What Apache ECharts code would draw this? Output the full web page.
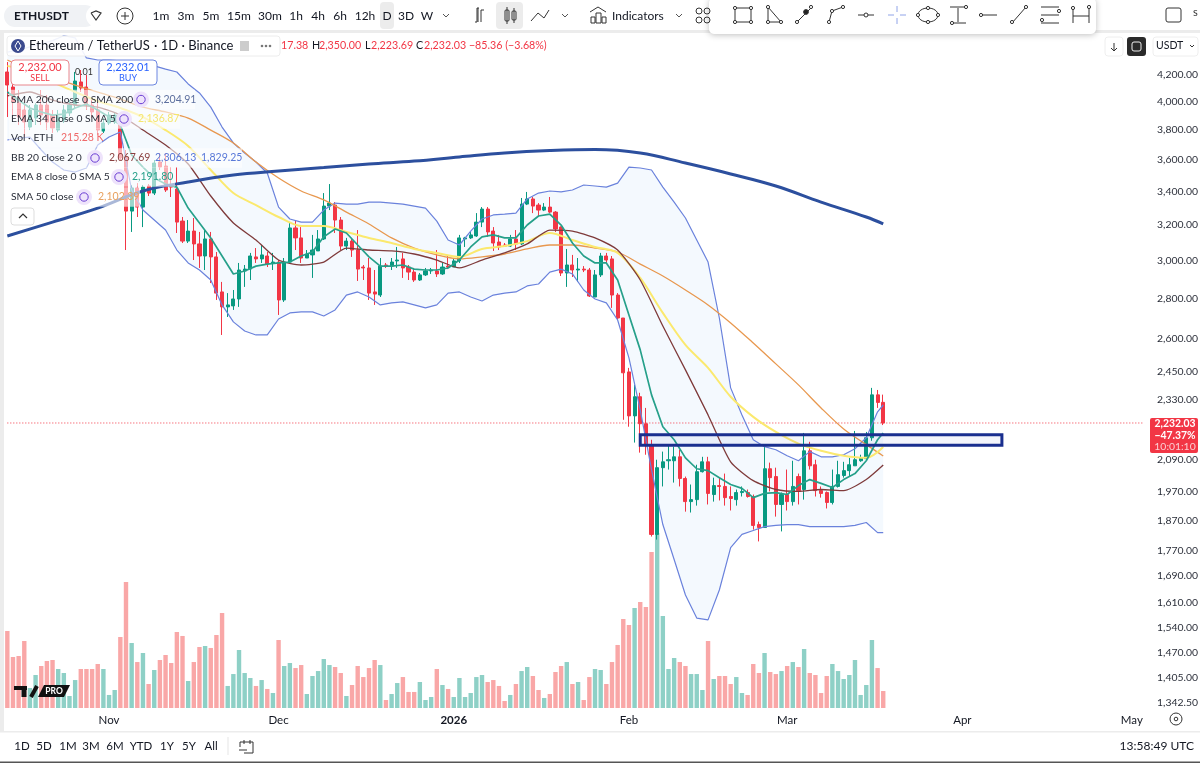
<!DOCTYPE html>
<html>
<head>
<meta charset="utf-8">
<style>html,body{margin:0;padding:0;background:#fff}#main{width:1200px;height:763px}</style>
<script src="https://cdn.jsdelivr.net/npm/echarts@6/dist/echarts.min.js"></script>
</head>
<body>
<div id="main"></div>
<script>
// daily candles (Oct 14 2025 .. Mar 18 2026)
var openPrices = [
  4223,4109,3992,3941,3821,3884,3977,3977,3905,3800,
  3870,3920,3977,4147,4109,3977,3941,3793,3849,3856,
  3835,3619,3280,3420,3304,3433,3389,3586,3560,3439,
  3414,3221,3106,3163,3090,3023,3118,3018,2832,2756,
  2761,2796,2942,2952,3018,3007,3023,2985,2990,2791,
  2990,3181,3124,3012,3029,3051,3118,3310,3316,3227,
  3078,3106,3056,2963,2958,2832,2816,2974,2968,2996,
  3007,2963,2936,2894,2921,2942,2942,2926,2968,2963,
  2996,3118,3124,3135,3215,3292,3163,3101,3084,3078,
  3118,3090,3322,3353,3316,3286,3304,3274,3186,2931,
  2974,2947,2952,2947,2806,2921,3023,3007,2816,2701,
  2449,2261,2341,2229,2142,1823,2058,2084,2084,2099,
  2018,1935,1942,2043,2080,1960,1992,1989,1953,1942,
  1967,1967,1953,1856,1846,2054,2025,1925,1960,1935,
  2025,1978,2122,2069,1974,1967,1932,1989,2029,2047,
  2065,2084,2092,2173,2349,2317.38
];
var closePrices = [
  4124,3999,3891,3856,3941,3977,3905,3856,3814,3891,
  3941,3977,4154,4102,3977,3927,3800,3849,3905,3905,
  3612,3280,3420,3304,3426,3389,3579,3553,3408,3426,
  3215,3106,3163,3090,3023,3118,3018,2826,2756,2766,
  2796,2947,2952,3023,3007,3029,2979,2990,2791,2990,
  3181,3124,3012,3034,3056,3118,3310,3328,3227,3078,
  3106,3056,2952,2958,2826,2821,2968,2968,2990,3001,
  2958,2936,2894,2921,2942,2947,2926,2963,2963,2996,
  3124,3124,3141,3215,3292,3158,3095,3073,3078,3118,
  3090,3322,3353,3310,3286,3304,3274,3175,2931,2974,
  2947,2952,2947,2811,2921,3023,3001,2816,2701,2445,
  2261,2341,2229,2142,1823,2058,2080,2088,2099,2018,
  1935,1942,2043,2080,1964,1992,1989,1949,1946,1967,
  1971,1953,1853,1846,2054,2021,1925,1960,1935,1989,
  1974,2122,2065,1974,1964,1932,1989,2032,2047,2069,
  2088,2095,2173,2349,2317,2232.03
];
var lowPrices = [
  3891,3870,3835,3750,3800,3835,3835,3800,3780,3785,
  3849,3898,3955,4072,3941,3884,3766,3780,3835,3842,
  3599,3056,3158,3245,3186,3371,3377,3534,3396,3365,
  3152,3095,3095,3001,2958,2947,2878,2791,2619,2706,
  2741,2756,2858,2894,2985,2985,2963,2947,2716,2781,
  2985,3056,2985,3012,2905,3051,3112,3286,3152,3056,
  3056,3018,2889,2894,2791,2766,2806,2958,2947,2958,
  2905,2894,2884,2889,2915,2926,2910,2921,2952,2963,
  2985,3073,3118,3130,3186,3130,3051,3056,3073,3073,
  3056,3084,3316,3268,3245,3280,3268,3158,2915,2858,
  2910,2884,2936,2806,2806,2910,2985,2751,2691,2245,
  2217,2154,2115,2107,1816,1806,1989,2051,2003,1989,
  1900,1897,1921,2040,1925,1935,1939,1921,1904,1921,
  1953,1949,1839,1800,1846,1971,1883,1833,1904,1921,
  1925,1942,2051,1953,1949,1911,1925,1985,2021,2025,
  2065,2080,2088,2161,2294,2223.69
];
var highPrices = [
  4300,4162,4087,4013,3977,3990,4087,4050,3941,3941,
  3977,4013,4223,4238,4200,4028,4013,3884,3927,3927,
  3870,3665,3439,3451,3439,3445,3599,3645,3645,3553,
  3553,3245,3227,3239,3158,3169,3158,3045,2884,2826,
  2842,2985,2974,3040,3067,3084,3045,3040,3001,3012,
  3210,3227,3186,3056,3141,3169,3389,3445,3334,3245,
  3124,3124,3169,2974,3012,2947,3012,2985,3012,3073,
  3040,2974,2958,2931,2958,2958,3056,2985,3023,3007,
  3141,3130,3158,3268,3304,3304,3186,3141,3095,3141,
  3169,3359,3396,3365,3328,3328,3365,3280,3190,3062,
  3029,3012,2968,2958,2947,3040,3040,3023,2826,2701,
  2467,2392,2358,2294,2165,2088,2119,2142,2138,2126,
  2025,1996,2069,2099,2099,2021,2021,2036,1989,1978,
  1989,1978,1960,1866,2138,2077,2058,1967,2051,2084,
  2036,2192,2157,2088,1989,1971,2051,2084,2080,2095,
  2200,2107,2196,2379,2370,2350
];
// volume in thousands of ETH
var volumeK = [
  975,646,658,848,253,418,532,595,608,494,
  443,152,354,494,494,494,557,494,165,228,
  899,1595,823,582,696,304,481,608,671,570,
  962,912,342,582,772,785,760,924,1203,279,
  430,734,443,380,279,354,241,190,861,532,
  570,506,544,177,405,468,620,544,519,443,
  152,291,532,392,506,608,544,101,177,316,
  392,203,203,329,101,139,494,291,241,139,
  380,139,190,392,418,329,354,279,89,165,
  304,468,519,405,228,127,177,456,532,582,
  304,329,101,392,494,481,304,582,798,1127,
  1051,1266,1342,1279,1975,2216,1165,494,633,582,
  532,430,430,228,848,367,405,405,304,392,
  190,165,557,443,696,456,430,468,532,582,
  519,747,443,418,190,405,557,468,367,418,
  608,165,291,861,506,215
];
// indicators, sampled every few days (last entry is always the last candle)
var sma200 = [3135,3215,3298,3402,3458,3502,3527,3550,3573,3592,3619,3645,3661,3668,3645,3579,3509,3433,3334,3245,3204.91];
var ema34 = [4270,4223,4147,4072,4006,3955,3891,3800,3692,3534,3389,3316,3245,3192,3192,3158,3124,3095,3062,3040,3018,3062,3078,3106,3152,3112,3073,3040,2905,2726,2572,2467,2341,2257,2196,2150,2122,2103,2095,2136.87];
var sma50 = [4316,4238,4177,4124,4072,4020,3962,3927,3884,3800,3712,3586,3483,3402,3347,3274,3204,3124,3067,3029,3007,3018,3034,3062,3084,3084,3067,3045,2979,2915,2842,2766,2677,2581,2485,2392,2294,2208,2146,2102.39];
var bbMid = [4043,4072,4013,3977,3962,3905,3800,3698,3573,3371,3210,3112,3001,2974,2990,3067,3056,3051,3034,3001,2958,3001,3040,3090,3169,3163,3124,3056,2894,2662,2458,2265,2080,2010,1978,1971,1978,1974,2014,2067.69];
var bbUpper = [4378,4395,4420,4445,4470,4510,4493,4332,4316,4316,4309,4300,4285,4270,4245,4223,4132,4065,3962,3821,3712,3645,3586,3515,3304,3233,3215,3215,3286,3328,3322,3322,3334,3334,3328,3322,3310,3298,3221,3112,3084,3163,3233,3257,3262,3268,3353,3389,3402,3396,3408,3439,3433,3426,3451,3553,3547,3534,3426,3334,3239,3112,2990,2701,2379,2265,2165,2138,2126,2103,2084,2119,2099,2099,2107,2130,2173,2278,2306.13];
var bbLower = [3732,3745,3752,3665,3586,3534,3521,3547,3698,3752,3787,3408,3286,3227,3169,3056,2985,2947,2894,2766,2682,2638,2619,2619,2696,2726,2731,2731,2711,2741,2816,2832,2806,2766,2776,2781,2766,2751,2766,2826,2832,2806,2786,2816,2826,2832,2863,2873,2936,2952,2926,2842,2796,2776,2691,2512,2286,2051,1856,1742,1633,1566,1561,1648,1780,1823,1836,1849,1853,1856,1856,1849,1849,1849,1849,1853,1863,1829,1829.25];
var ema8 = [4072,4013,3955,3927,3905,3912,3955,3984,3941,3891,3835,3632,3553,3483,3445,3426,3298,3210,3124,3023,2926,2942,2968,2979,2985,2990,3023,3045,3130,3175,3152,3084,3018,2968,2968,2974,2952,2947,2947,2958,3001,3073,3130,3141,3124,3124,3198,3251,3262,3198,3095,3023,2985,2985,2894,2716,2549,2349,2217,2165,2095,2054,2047,2021,1996,1982,1949,1964,1967,1960,1992,2014,2000,1985,2014,2036,2084,2165,2191.80];
var priceTicks = [4200,4000,3800,3600,3400,3200,3000,2800,2600,2450,2330,2090,1970,1870,1770,1690,1610,1540,1470,1405,1342.5];
var lastPrice = 2232.03;
var zoneTop = 2185, zoneBottom = 2144, zoneFromDay = 112, zoneToDay = 176;
var dayCount = 202;
var monthLabels = {18:'Nov',48:'Dec',79:'2026',110:'Feb',138:'Mar',169:'Apr',199:'May'};

var categories = [];
for (var d = 0; d < dayCount; d++) {
  categories.push(new Date(Date.UTC(2025, 9, 14 + d)).toISOString().slice(0, 10));
}
var candles = openPrices.map(function (o, i) { return [o, closePrices[i], lowPrices[i], highPrices[i]]; });
var volumes = volumeK.map(function (v, i) {
  return { value: v, itemStyle: { color: closePrices[i] >= openPrices[i] ? '#8ed0c6' : '#f9a7a7' } };
});
function sampled(values, step) {
  return values.map(function (v, k) { return [Math.min(k * step, openPrices.length - 1), v]; });
}
function lineSeries(name, values, step, color, width, smooth) {
  return { name: name, type: 'line', data: sampled(values, step), showSymbol: false, symbol: 'none', z: 5,
    smooth: smooth || false, lineStyle: { color: color, width: width }, silent: true };
}

var UI = 'Lato, "Noto Sans", sans-serif';
var els = [];
function rect(x, y, w, h, fill, stroke, r, lw, extra) {
  els.push(Object.assign({ type: 'rect', shape: { x: x, y: y, width: w, height: h, r: r || 0 },
    style: { fill: fill || 'none', stroke: stroke || 'none', lineWidth: lw || 1 }, z: 50, silent: true }, extra || {}));
}
function text(x, y, s, color, size, align, weight) {
  els.push({ type: 'text', x: x, y: y, z: 52, silent: true, style: { text: s, fill: color || '#131722',
    font: (weight || 'normal') + ' ' + (size || 12) + 'px ' + UI, align: align || 'left', verticalAlign: 'middle' } });
}
function path(points, color, lw) {
  els.push({ type: 'polyline', z: 52, silent: true, shape: { points: points },
    style: { stroke: color || '#333', lineWidth: lw || 1, fill: 'none' } });
}
function dot(x, y, r, fill, stroke) {
  els.push({ type: 'circle', z: 52, silent: true, shape: { cx: x, cy: y, r: r || 2 },
    style: { fill: fill || '#fff', stroke: stroke === undefined ? '#333' : stroke, lineWidth: 1 } });
}
function refresh(x, y) {
  dot(x, y, 8, '#eee3fb', 'none');
  dot(x, y, 4.2, 'none', '#6b3fd4');
}

// frame
rect(0, 30, 1200, 3, '#ececec');
rect(0, 30, 4, 702, '#ececec');
rect(0, 731, 1200, 1.5, '#ececec');
rect(0, 761.5, 1200, 1.5, '#555');

// top bar
rect(4, 5, 92, 22, '#f0f2f5', null, 11);
rect(86, 5, 22, 22, '#fff', null, 11);
text(14, 16, 'ETHUSDT', '#131722', 12, 'left', 'bold');
path([[91, 13], [96, 11], [101, 13], [96, 20], [91, 13]], '#333', 1.2);
dot(125, 16, 8, 'none');
path([[121, 16], [129, 16]]); path([[125, 12], [125, 20]]);
[['1m', 161], ['3m', 186], ['5m', 211], ['15m', 239], ['30m', 270], ['1h', 296], ['4h', 318], ['6h', 340], ['12h', 365], ['3D', 406], ['W', 427]].forEach(function (t) {
  text(t[1], 16, t[0], '#131722', 12, 'center');
});
rect(380, 2, 14, 27, '#ececec', null, 4);
text(387, 16, 'D', '#131722', 12, 'center');
path([[443, 14], [446, 17], [449, 14]], '#555');
path([[475, 22], [477, 22], [477, 8], [479, 8]]); path([[481, 22], [481, 10], [484, 10]]); path([[478, 22], [478, 8]]);
rect(496, 2, 27, 27, '#ececec', null, 4);
rect(505, 10, 4, 11, 'none', '#333', 1); rect(512, 11, 4, 9, 'none', '#333', 1);
path([[507, 7], [507, 24]]); path([[514, 8], [514, 23]]);
path([[531, 21], [538, 13], [544, 18], [549, 10]]);
path([[562, 14], [565, 17], [568, 14]], '#555');
rect(591, 17, 4, 6, 'none', '#333'); rect(596, 13, 5, 10, 'none', '#333'); rect(602, 17, 4, 6, 'none', '#333');
path([[590, 12], [598, 7], [606, 12]]);
text(612, 16, 'Indicators', '#131722', 12);
path([[676, 14], [679, 17], [682, 14]], '#555');
[[699, 11], [699, 20], [707, 11], [707, 20]].forEach(function (p) { dot(p[0], p[1], 3, 'none'); });

// drawing toolbar
rect(709, -2, 387, 36, '#fff', null, 5, 1, { style: { fill: '#fff', shadowBlur: 6, shadowColor: 'rgba(0,0,0,.25)', shadowOffsetY: 1 } });
path([[735, 8], [751, 8], [751, 22], [735, 22], [735, 8]]);
[[735, 8], [751, 8], [751, 22], [735, 22]].forEach(function (p) { dot(p[0], p[1], 1.6); });
path([[768, 7], [768, 22], [781, 22], [768, 7]]);
[[768, 7], [768, 22], [781, 22]].forEach(function (p) { dot(p[0], p[1], 1.6); });
path([[797, 22], [811, 8]]); dot(797, 22, 1.6); dot(811, 7, 1.6); dot(806, 12, 2.4, '#222');
path([[829, 22], [832, 11], [843, 7]]); dot(829, 22, 1.6); dot(832, 11, 1.6); dot(843, 7, 1.6);
path([[858, 15], [874, 15]]); dot(866, 15, 2);
path([[888, 15], [894, 15]], '#90a4e8'); path([[900, 15], [906, 15]], '#90a4e8');
path([[897, 6], [897, 12]], '#90a4e8'); path([[897, 18], [897, 24]], '#90a4e8');
els.push({ type: 'ellipse', z: 52, silent: true, shape: { cx: 928, cy: 15, rx: 10, ry: 7 }, style: { fill: 'none', stroke: '#333' } });
[[918, 15], [938, 15], [928, 8], [928, 22]].forEach(function (p) { dot(p[0], p[1], 1.6); });
path([[950, 7], [964, 7]]); path([[950, 23], [966, 23]]); path([[958, 8], [958, 22]]); dot(966, 7, 1.6); dot(952, 23, 1.6);
path([[981, 15], [997, 15]]); dot(981, 15, 1.6);
path([[1012, 23], [1026, 7]]); dot(1012, 22, 1.6); dot(1026, 7, 1.6);
[7, 15, 23].forEach(function (y) { path([[1041, y], [1059, y]]); });
dot(1059, 11, 1.6); dot(1042, 20, 1.6);
path([[1073, 8], [1073, 23]]); path([[1089, 8], [1089, 23]]); path([[1073, 16], [1089, 16]]); dot(1073, 8, 1.6); dot(1089, 7, 1.6);
rect(1166, 8, 15, 14, 'none', '#333', 2);
text(1193, 12, 's', '#333', 11);

// top-right chart buttons
rect(1105, 37, 18, 19, '#fff', '#eee', 3);
path([[1114, 43], [1114, 51]], '#333'); path([[1111, 48], [1114, 51], [1117, 48]], '#333');
rect(1127, 37, 19, 19, '#2a2a2a', null, 3);
rect(1132, 42, 9, 9, 'none', '#eee', 2);
rect(1153, 37, 45, 19, '#fff', '#eee', 3);
text(1156, 46, 'USDT', '#131722', 10.5);
path([[1190, 45], [1192, 47], [1194, 45]], '#333');

// legend
rect(7, 36, 273, 20, 'rgba(255,255,255,.9)', '#ececec', 3);
dot(18, 46, 7, '#3c4b8f', 'none');
path([[18, 41], [15, 46], [18, 51], [21, 46], [18, 41]], '#fff');
text(29, 46, 'Ethereum / TetherUS', '#131722', 13);
text(154, 46, '· 1D · Binance', '#131722', 13);
rect(240, 41, 9, 10, '#ccc');
[262, 266, 270].forEach(function (x) { dot(x, 46, 1.3, '#777', 'none'); });
text(281, 46, '17.38', '#f23645', 10.7);
text(312, 46, 'H', '#131722', 10.7); text(319, 46, '2,350.00', '#f23645', 10.7);
text(365, 46, 'L', '#131722', 10.7); text(371, 46, '2,223.69', '#f23645', 10.7);
text(416, 46, 'C', '#131722', 10.7); text(424, 46, '2,232.03 −85.36 (−3.68%)', '#f23645', 10.7);

rect(11, 60, 58, 25, '#fff', '#e8868c', 4);
text(40, 67, '2,232.00', '#f23645', 11, 'center'); text(40, 78, 'SELL', '#f23645', 9, 'center');
rect(99, 60, 58, 25, '#fff', '#6c86e0', 4);
text(128, 67, '2,232.01', '#2962ff', 11, 'center'); text(128, 78, 'BUY', '#2962ff', 9, 'center');
text(84, 72, '0.01', '#333', 9, 'center');

var rows = [
  [99.5, 'SMA 200 close 0 SMA 200', 141, [[155, '3,204.91', '#5d6f9e']], 195],
  [119, 'EMA 34 close 0 SMA 5', 124, [[138, '2,136.87', '#f5e66f']], 180],
  [138, 'Vol · ETH', 0, [[61, '215.28 K', '#ef6a6a']], 102],
  [158, 'BB 20 close 2 0', 95, [[109, '2,067.69', '#8a3f3f'], [155, '2,306.13', '#5878d8'], [201, '1,829.25', '#5878d8']], 242],
  [177, 'EMA 8 close 0 SMA 5', 119, [[132, '2,191.80', '#26a08a']], 175],
  [197, 'SMA 50 close', 84, [[98, '2,102.39', '#e8a15f']], 140]
];
rows.forEach(function (r) {
  rect(9, r[0] - 9.75, r[4] - 9, 19.5, 'rgba(255,255,255,.6)');
  text(11, r[0], r[1], '#2a2e39', 10.3);
  if (r[2]) refresh(r[2], r[0]);
  r[3].forEach(function (v) { text(v[0], r[0], v[1], v[2], 10.5); });
});
rect(11, 208, 23, 17, '#fff', '#ddd', 3);
path([[19, 218], [23, 214], [27, 218]], '#333', 1.2);

// price box
rect(1150, 418, 48, 35, '#f23645', null, 2);
text(1175, 424, '2,232.03', '#fff', 10.4, 'center', 'bold');
text(1175, 435.5, '−47.37%', '#fff', 10.4, 'center', 'bold');
text(1175, 447, '10:01:10', '#fbd0d4', 10.4, 'center');

// TV logo
path([[14, 688], [27, 688]], '#111', 4);
path([[24, 688], [24, 697]], '#111', 5);
path([[37, 686], [31, 697]], '#111', 4);
els.push({ type: 'polygon', z: 52, silent: true, shape: { points: [[44, 685], [70, 685], [64, 697], [38, 697]] }, style: { fill: '#111' } });
text(54, 691, 'PRO', '#fff', 8.5, 'center', 'bold');

// axis corner and bottom bar
dot(1176, 719, 6, 'none');
dot(1176, 719, 1.8, 'none');
[['1D', 22], ['5D', 44], ['1M', 68], ['3M', 91], ['6M', 115], ['YTD', 141], ['1Y', 167], ['5Y', 189], ['All', 211]].forEach(function (t) {
  text(t[1], 746, t[0], '#131722', 11.5, 'center');
});
path([[228, 737], [228, 755]], '#e5e5e5');
path([[240, 742], [253, 742], [253, 753], [244, 753]], '#333');
path([[240, 742], [240, 747]], '#333'); path([[239, 750], [247, 750]], '#333');
path([[244, 740], [244, 744]], '#333'); path([[250, 740], [250, 744]], '#333');
text(1194, 746, '13:58:49 UTC', '#131722', 12, 'right');

var myChart = echarts.init(document.getElementById('main'));
var option = {
  animation: false,
  grid: { left: 4.5, width: 1141.5, top: 32, bottom: 55, containLabel: false, outerBoundsMode: 'none' },
  xAxis: {
    type: 'category',
    data: categories,
    boundaryGap: true,
    axisLine: { show: false },
    axisTick: { show: false },
    splitLine: { show: false },
    axisLabel: {
      margin: 6,
      interval: function (i) { return monthLabels[i] !== undefined; },
      formatter: function (v, i) { return monthLabels[i] === '2026' ? '{b|2026}' : monthLabels[i]; },
      color: '#131722',
      fontFamily: UI,
      fontSize: 11.5,
      rich: { b: { fontWeight: 'bold', fontSize: 11.5, fontFamily: UI, color: '#131722' } }
    }
  },
  yAxis: [
    {
      type: 'log',
      logBase: Math.E,
      position: 'right',
      min: 1330,
      max: 4541,
      axisLine: { show: false },
      axisTick: { show: false },
      splitLine: { show: false },
      minorTick: { show: false },
      axisLabel: {
        margin: 11,
        customValues: priceTicks,
        color: '#2a2e39',
        fontFamily: UI,
        fontSize: 10.4,
        formatter: function (v) {
          return Number(v).toLocaleString('en-US', { minimumFractionDigits: 2, maximumFractionDigits: 2 });
        }
      }
    },
    { type: 'value', min: 0, max: 8558, show: false, splitLine: { show: false } }
  ],
  series: [
    {
      name: 'Vol', type: 'bar', yAxisIndex: 1, data: volumes, barWidth: 4.4, z: 1, silent: true
    },
    {
      name: 'BB fill', type: 'custom', z: 1, silent: true,
      data: sampled(bbUpper, 2),
      encode: { x: 0, y: 1 },
      renderItem: function (params, api) {
        if (params.dataIndex !== 0) return null;
        var up = sampled(bbUpper, 2).map(function (p) { return api.coord(p); });
        var low = sampled(bbLower, 2).map(function (p) { return api.coord(p); }).reverse();
        return { type: 'polygon', shape: { points: up.concat(low) }, style: { fill: 'rgba(33,130,243,0.05)' } };
      }
    },
    {
      name: 'Last price', type: 'line', showSymbol: false, symbol: 'none', silent: true, z: 2,
      data: [[0, lastPrice], [dayCount - 1, lastPrice]],
      lineStyle: { color: '#f23645', width: 1, type: [1, 2] }
    },
    {
      name: 'ETHUSDT', type: 'candlestick', data: candles, barWidth: 3.6, z: 3, silent: true,
      itemStyle: { color: '#089981', color0: '#f23645', borderColor: '#089981', borderColor0: '#f23645', borderWidth: 1 },
      markArea: {
        silent: true, z: 10,
        itemStyle: { color: 'rgba(33,60,170,0.05)', borderColor: '#1a2f8f', borderWidth: 3 },
        data: [[{ xAxis: zoneFromDay, yAxis: zoneTop }, { xAxis: zoneToDay, yAxis: zoneBottom }]]
      }
    },
    lineSeries('BB upper', bbUpper, 2, '#6a82dc', 1.2),
    lineSeries('BB lower', bbLower, 2, '#6a82dc', 1.2),
    lineSeries('SMA 50', sma50, 4, '#e8984f', 1.3, 0.3),
    lineSeries('EMA 34', ema34, 4, '#fbe96e', 2, 0.3),
    lineSeries('BB basis', bbMid, 4, '#7f3b3b', 1.3, 0.2),
    lineSeries('EMA 8', ema8, 2, '#26a08a', 1.7),
    lineSeries('SMA 200', sma200, 8, '#2c4f9e', 3, 0.4)
  ],
  graphic: { elements: els }
};
option && myChart.setOption(option);
</script>
</body>
</html>
